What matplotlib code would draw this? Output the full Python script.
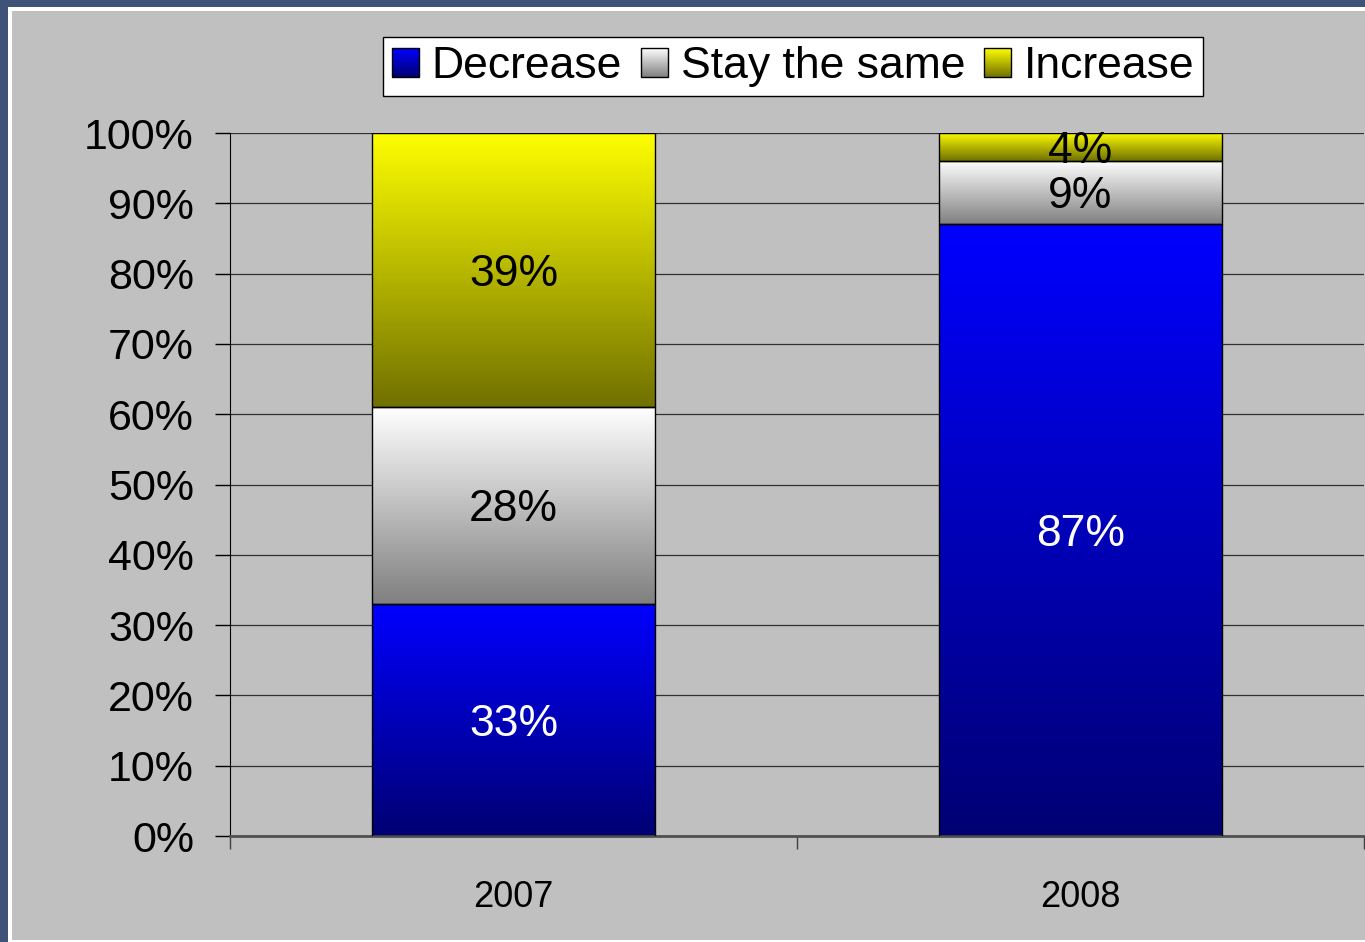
import numpy as np
import matplotlib
matplotlib.use('Agg')
import matplotlib.pyplot as plt
from matplotlib.patches import Rectangle
from matplotlib.legend_handler import HandlerBase
from matplotlib.image import BboxImage
from matplotlib.transforms import Bbox, TransformedBbox

plt.rcParams['font.family'] = ['Liberation Sans', 'DejaVu Sans']

years = ['2007', '2008']
series = ['Decrease', 'Stay the same', 'Increase']
decrease = [33, 87]
same = [28, 9]
increase = [39, 4]
y_ticks = [0, 10, 20, 30, 40, 50, 60, 70, 80, 90, 100]

# top colour / bottom colour of each segment gradient
grad_colors = {
    'Decrease': ((0, 0, 1.0), (0, 0, 0.45)),
    'Stay the same': ((1.0, 1.0, 1.0), (0.5, 0.5, 0.5)),
    'Increase': ((1.0, 1.0, 0), (0.44, 0.44, 0)),
}
label_colors = {'Decrease': 'white', 'Stay the same': 'black', 'Increase': 'black'}


def gradient(top, bottom, n=256):
    t = np.linspace(0, 1, n)[:, None]
    g = np.array(top) * (1 - t) + np.array(bottom) * t
    return g[:, None, :]


class GradHandler(HandlerBase):
    def __init__(self, top, bottom):
        super().__init__()
        self.top = top
        self.bottom = bottom

    def create_artists(self, legend, orig_handle, xdescent, ydescent, width, height, fontsize, trans):
        bb = TransformedBbox(Bbox.from_bounds(-xdescent, -ydescent, width, height), trans)
        img = BboxImage(bb, interpolation='bilinear')
        img.set_data(gradient(self.top, self.bottom))
        rect = Rectangle((-xdescent, -ydescent), width, height, facecolor='none',
                         edgecolor='black', lw=1, transform=trans)
        return [img, rect]


W, H = 1365, 942
fig = plt.figure(figsize=(W / 100, H / 100), dpi=100)
fig.patch.set_facecolor('#3F5277')
fig.patches.append(Rectangle((8 / W, 0), 1, 1 - 7 / H, transform=fig.transFigure,
                             facecolor='white', edgecolor='none', zorder=-10))
fig.patches.append(Rectangle((12 / W, 2 / H), 1, 1 - 13 / H, transform=fig.transFigure,
                             facecolor='#C0C0C0', edgecolor='none', zorder=-9))

ax = fig.add_axes([230 / W, 1 - 836 / H, (1364 - 230) / W, (836 - 133) / H])
ax.set_facecolor('none')

x = np.array([0.5, 1.5])
width = 0.5
bottom = np.zeros(2)
for name, vals in zip(series, [decrease, same, increase]):
    bars = ax.bar(x, vals, width, bottom=bottom, facecolor='none', edgecolor='black',
                  lw=1, zorder=3)
    top_c, bot_c = grad_colors[name]
    for p in bars:
        ax.imshow(gradient(top_c, bot_c), extent=[p.get_x(), p.get_x() + p.get_width(),
                                                  p.get_y(), p.get_y() + p.get_height()],
                  aspect='auto', interpolation='bilinear', zorder=2)
    for xi, b, v in zip(x, bottom, vals):
        ax.annotate(f'{v}%', (xi, b + v / 2), xytext=(0, -3), textcoords='offset points',
                    ha='center', va='center', fontsize=32,
                    color=label_colors[name], zorder=4)
    bottom = bottom + np.array(vals)

ax.set_xlim(0, 2)
ax.set_ylim(0, 100)

ax.set_yticks(y_ticks)
ax.set_yticklabels([f'{t}%' for t in y_ticks])
ax.tick_params(axis='y', direction='out', length=11, width=1, color='black',
               labelsize=31, pad=15)
ax.set_xticks([0, 1, 2])
ax.set_xticklabels(['', '', ''])
ax.tick_params(axis='x', which='major', direction='out', length=9, width=1, color='#404040')
ax.set_xticks(x, minor=True)
ax.set_xticklabels(years, minor=True)
ax.tick_params(axis='x', which='minor', length=0, labelsize=26, pad=32)

ax.yaxis.grid(True, color='#303030', lw=0.9)
ax.set_axisbelow(True)
for s in ['top', 'right']:
    ax.spines[s].set_visible(False)
ax.spines['left'].set_color('black')
ax.spines['bottom'].set_color('#505050')
ax.spines['bottom'].set_linewidth(2)

proxies = [Rectangle((0, 0), 1, 1) for _ in series]
hmap = {p: GradHandler(*grad_colors[n]) for p, n in zip(proxies, series)}
leg = fig.legend(proxies, series, handler_map=hmap, ncol=3, loc='upper center',
                 bbox_to_anchor=(793 / W, 1 - 37 / H), bbox_transform=fig.transFigure,
                 fontsize=32, handlelength=0.62, handleheight=0.62, handletextpad=0.28,
                 columnspacing=0.42, borderpad=0.2, borderaxespad=0,
                 fancybox=False, framealpha=1, edgecolor='black')
leg.get_frame().set_linewidth(1)

plt.savefig('out.png', dpi=100)
